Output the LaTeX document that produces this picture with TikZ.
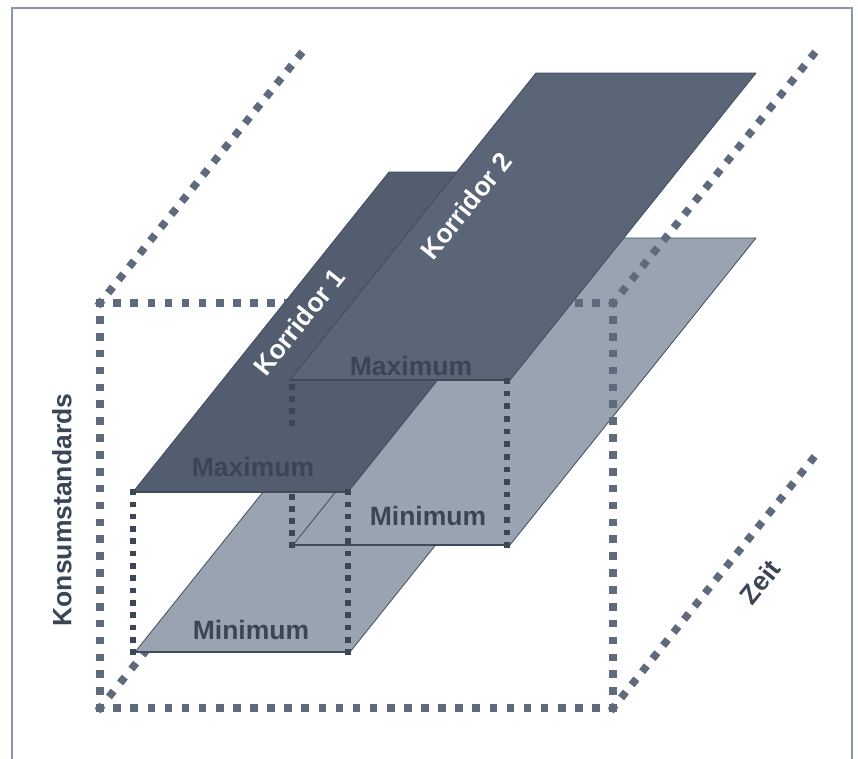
\documentclass[tikz,border=0pt]{standalone}
\usepackage{fontspec}
\setmainfont{Liberation Sans}
\definecolor{frame}{HTML}{8797AC}
\definecolor{cube}{HTML}{5F6B7C}
\definecolor{inner}{HTML}{3B4656}
\definecolor{darkA}{HTML}{525E70}
\definecolor{darkB}{HTML}{5A6677}
\definecolor{light}{HTML}{9AA3B0}
\definecolor{edge}{HTML}{3F4A5B}
\definecolor{txt}{HTML}{3A4555}
\tikzset{
  cubedots/.style={draw=cube, line width=7.6pt, line cap=butt,
    shorten <=-3.8pt, shorten >=-3.8pt,
    dash pattern=on 7.6pt off #1},
  innerdots/.style={draw=inner, line width=5.6pt, line cap=butt,
    shorten <=-2.8pt, shorten >=-2.8pt,
    dash pattern=on 5.6pt off #1},
  plane/.style={draw=edge, line width=0.8pt, line join=round},
  frontedge/.style={draw=edge, line width=2pt},
  lab/.style={inner sep=0pt, text=txt, font=\fontsize{26.5}{30}\selectfont\bfseries},
  kor/.style={inner sep=0pt, text=white, font=\fontsize{26.5}{30}\selectfont\bfseries},
}
\begin{document}
\begin{tikzpicture}[x=1pt, y=-1pt]
\useasboundingbox (0,0) rectangle (858,758);
% outer frame
\draw[frame, line width=1.5pt] (12,760) -- (12,8) -- (852,8) -- (852,760);

% cube corners
\coordinate (FTL) at (100,303);
\coordinate (FTR) at (613,303);
\coordinate (FBL) at (100,708);
\coordinate (FBR) at (613,708);
\coordinate (BTL) at (300,55);
\coordinate (BTR) at (813,55);
\coordinate (BBR) at (815,456);
\coordinate (BBLv) at (145,652);

% hidden depth edge (only visible below the lower plane)
\draw[cubedots=10.34pt] (FBL) -- (BBLv);

% Korridor 1 minimum plane
\coordinate (m1a) at (135,652); \coordinate (m1b) at (350,652);
\coordinate (m1c) at (606,332); \coordinate (m1d) at (391,332);
\path[plane, fill=light] (m1a) -- (m1b) -- (m1c) -- (m1d) -- cycle;
\draw[frontedge] (m1a) -- (m1b);
% Korridor 2 minimum plane
\coordinate (m2a) at (293,545); \coordinate (m2b) at (510,545);
\coordinate (m2c) at (756,238); \coordinate (m2d) at (539,238);
\path[plane, fill=light] (m2a) -- (m2b) -- (m2c) -- (m2d) -- cycle;
\draw[frontedge] (m2a) -- (m2b);

% cube lines (period = length / n, off = period - 7.6)
\draw[cubedots=9.5pt] (FTL) -- (FTR);
\draw[cubedots=9.5pt] (FBL) -- (FBR);
\draw[cubedots=9.275pt] (FTL) -- (FBL);
\draw[cubedots=9.275pt] (FTR) -- (FBR);
\draw[cubedots=9.17pt] (FTL) -- (BTL);
\draw[cubedots=9.17pt] (FTR) -- (BTR);
\draw[cubedots=9.17pt] (FBR) -- (BBR);

% Korridor 1 maximum plane
\coordinate (x1a) at (133,492); \coordinate (x1b) at (348,492);
\coordinate (x1c) at (604,172); \coordinate (x1d) at (389,172);
\path[plane, fill=darkA] (x1a) -- (x1b) -- (x1c) -- (x1d) -- cycle;
\draw[frontedge] (x1a) -- (x1b);
% Korridor 2 maximum plane
\coordinate (x2a) at (290,380); \coordinate (x2b) at (510,380);
\coordinate (x2c) at (756,73); \coordinate (x2d) at (536,73);
\path[plane, fill=darkB] (x2a) -- (x2b) -- (x2c) -- (x2d) -- cycle;
\draw[frontedge] (x2a) -- (x2b);

% faint cube line seen through dark planes
\draw[cubedots=9.5pt, draw opacity=0.13] (FTL) -- (FTR);

% inner dotted verticals (period = length / n, off = period - 5.6)
\coordinate (k1l) at (133,652); \coordinate (k1r) at (348,652);
\draw[innerdots=6.71pt] (x1a) -- (k1l);
\draw[innerdots=6.71pt] (x1b) -- (k1r);
\coordinate (k2rt) at (507,381); \coordinate (k2rb) at (507,545);
\draw[innerdots=7.02pt] (k2rt) -- (k2rb);
\coordinate (k2la) at (292,387); \coordinate (k2lb) at (292,423);
\draw[innerdots=6.4pt] (k2la) -- (k2lb);
\coordinate (k2lc) at (292,497); \coordinate (k2ld) at (292,545);
\draw[innerdots=6.4pt] (k2lc) -- (k2ld);

% labels
\node[lab] (max1) at (253,467) {Maximum};
\node[lab] (min1) at (251,630) {Minimum};
\node[lab] (max2) at (411,366) {Maximum};
\node[lab] (min2) at (428,516) {Minimum};
\node[lab, rotate=90] (ks) at (62,510) {Konsumstandards};
\node[lab, rotate=51.3] (zeit) at (760,582) {Zeit};
\node[kor, rotate=51.3] (k1) at (299,322) {Korridor 1};
\node[kor, rotate=51.3] (k2) at (466,206) {Korridor 2};
\end{tikzpicture}
\end{document}
